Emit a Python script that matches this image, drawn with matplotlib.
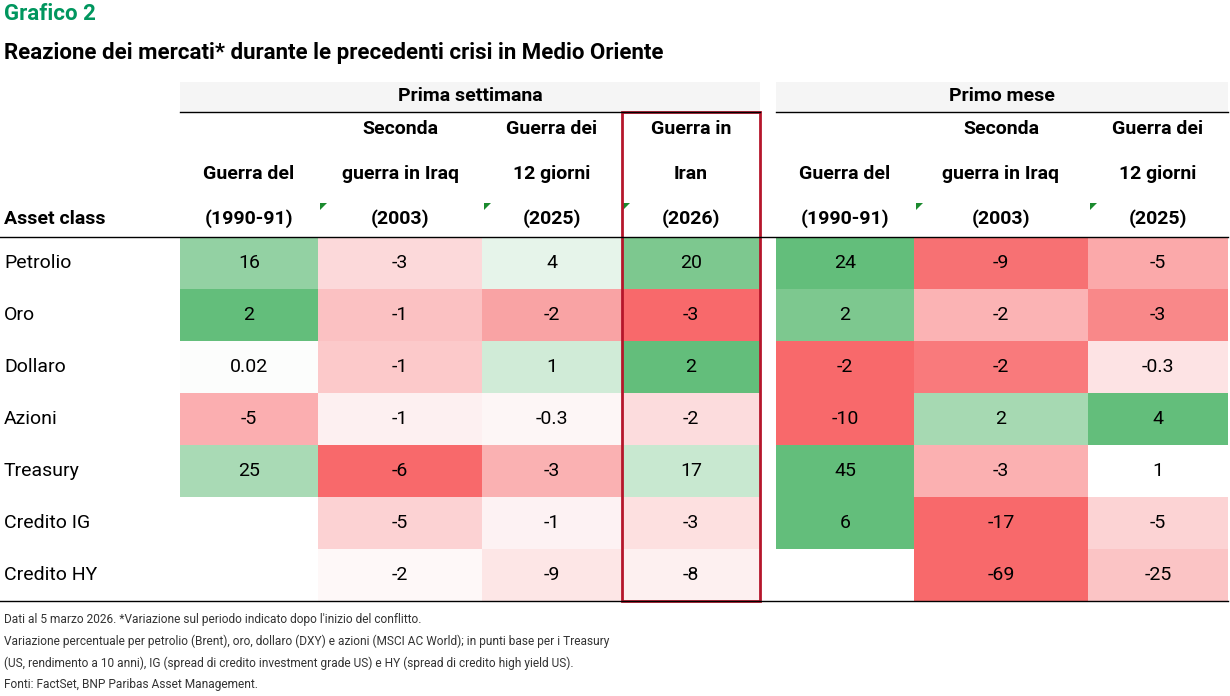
import matplotlib.pyplot as plt
from matplotlib.patches import Rectangle, Polygon

rows = ["Petrolio", "Oro", "Dollaro", "Azioni", "Treasury", "Credito IG", "Credito HY"]
col_heads = [("", "Guerra del", "(1990-91)"), ("Seconda", "guerra in Iraq", "(2003)"),
             ("Guerra dei", "12 giorni", "(2025)"), ("Guerra in", "Iran", "(2026)"),
             ("", "Guerra del", "(1990-91)"), ("Seconda", "guerra in Iraq", "(2003)"),
             ("Guerra dei", "12 giorni", "(2025)")]
values = [
    ["16", "-3", "4", "20", "24", "-9", "-5"],
    ["2", "-1", "-2", "-3", "2", "-2", "-3"],
    ["0.02", "-1", "1", "2", "-2", "-2", "-0.3"],
    ["-5", "-1", "-0.3", "-2", "-10", "2", "4"],
    ["25", "-6", "-3", "17", "45", "-3", "1"],
    ["", "-5", "-1", "-3", "6", "-17", "-5"],
    ["", "-2", "-9", "-8", "", "-69", "-25"],
]
cell_colors = [
    ["#93d1a3", "#fcd9da", "#e6f4ea", "#7dc88f", "#63be7b", "#f77173", "#fba9aa"],
    ["#63be7b", "#fbc1c2", "#f9a3a4", "#f8696b", "#7dc88f", "#fbb3b4", "#f98889"],
    ["#fcfdfc", "#fcc9ca", "#d0ebd7", "#63be7b", "#f8696b", "#f97a7c", "#fde3e4"],
    ["#fbaeb0", "#fdf0f1", "#fdf6f6", "#fcdcdd", "#f8696b", "#a6d9b2", "#63be7b"],
    ["#a9dab5", "#f8696b", "#fab1b2", "#c8e8d0", "#63be7b", "#fbb0b1", "#ffffff"],
    ["#ffffff", "#fcd2d3", "#fdf2f3", "#fde0e0", "#63be7b", "#f8696b", "#fcd3d4"],
    ["#ffffff", "#fef8f8", "#fde6e6", "#fdf0f0", "#ffffff", "#f8696b", "#fbc4c5"],
]
groups = ["Prima settimana", "Primo mese"]
notes = ["Dati al 5 marzo 2026. *Variazione sul periodo indicato dopo l'inizio del conflitto.",
         "Variazione percentuale per petrolio (Brent), oro, dollaro (DXY) e azioni (MSCI AC World); in punti base per i Treasury",
         "(US, rendimento a 10 anni), IG (spread di credito investment grade US) e HY (spread di credito high yield US).",
         "Fonti: FactSet, BNP Paribas Asset Management."]

plt.rcParams['font.family'] = ['Roboto', 'DejaVu Sans']
fig = plt.figure(figsize=(12.3, 6.96), dpi=100)
ax = fig.add_axes([0, 0, 1, 1])
ax.set_xlim(0, 1230)
ax.set_ylim(696, 0)
ax.axis('off')

col_x = [180, 318, 482, 622, 760, 776, 914, 1088, 1228]
edges = [(col_x[i], col_x[i + 1]) for i in range(4)] + [(col_x[i], col_x[i + 1]) for i in range(5, 8)]
top, rh = 237, 52
fs = 14

ax.text(4, 14, "Grafico 2", fontsize=16, fontweight='bold', color='#00965e', va='center')
ax.text(4, 53, "Reazione dei mercati* durante le precedenti crisi in Medio Oriente",
        fontsize=16, fontweight='bold', color='black', va='center')

# group header bands
for (x0, x1), g in zip([(180, 760), (776, 1228)], groups):
    ax.add_patch(Rectangle((x0, 82), x1 - x0, 30, color='#f5f5f5', lw=0))
    ax.plot([x0, x1], [112, 112], color='black', lw=1)
    ax.text((x0 + x1) / 2, 96, g, ha='center', va='center', fontsize=fs, fontweight='bold')

for (x0, x1), heads in zip(edges, col_heads):
    for y, t in zip([129, 174, 219], heads):
        ax.text((x0 + x1) / 2, y, t, ha='center', va='center', fontsize=fs, fontweight='bold')
ax.text(4, 219, "Asset class", va='center', fontsize=fs, fontweight='bold')

# small green comment markers
for tx in [320, 484, 623, 916, 1090]:
    ax.add_patch(Polygon([(tx, 203), (tx + 7, 203), (tx, 210)], color='#1a8a2e', lw=0))

for r, name in enumerate(rows):
    y0 = top + r * rh
    ax.text(4, y0 + rh / 2, name, va='center', fontsize=fs)
    for c, (x0, x1) in enumerate(edges):
        ax.add_patch(Rectangle((x0, y0), x1 - x0, rh, color=cell_colors[r][c], lw=0))
        ax.text((x0 + x1) / 2, y0 + rh / 2, values[r][c], ha='center', va='center', fontsize=fs)

bottom = top + len(rows) * rh
ax.plot([0, 1228], [top, top], color='black', lw=1)
ax.plot([0, 1228], [bottom, bottom], color='black', lw=1)
ax.add_patch(Rectangle((622, 112), 138, bottom - 112, fill=False, ec='#b5162b', lw=2))

for i, n in enumerate(notes):
    ax.text(4, 620 + i * 21.5, n, va='center', fontsize=8.6, color='#333333')

fig.savefig("out.png", dpi=100)
